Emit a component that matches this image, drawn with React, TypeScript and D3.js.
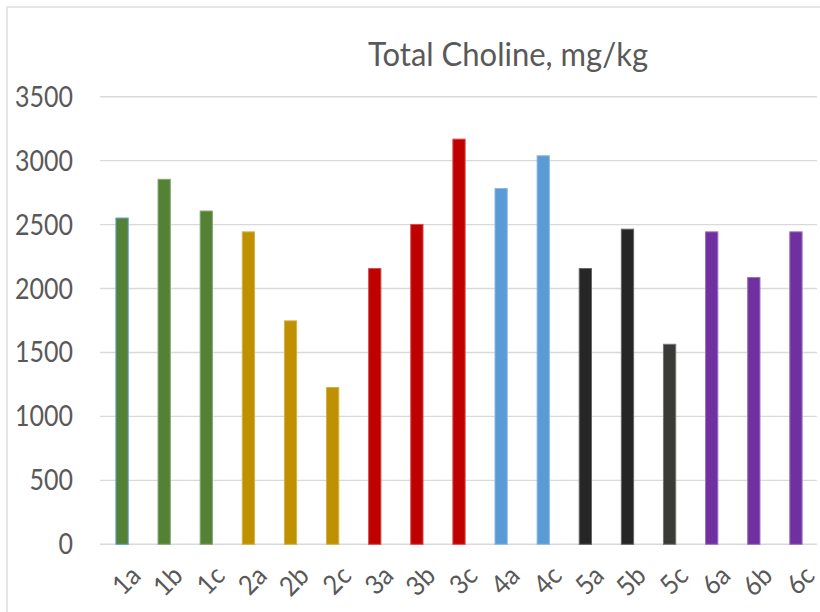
import React from "react";
import * as d3 from "d3";

const categories = ["1a","1b","1c","2a","2b","2c","3a","3b","3c","4a","4c","5a","5b","5c","6a","6b","6c"];
const values = [2555, 2858, 2610, 2447, 1751, 1230, 2160, 2505, 3172, 2786, 3042, 2160, 2468, 1568, 2447, 2090, 2447];
const colors = ["#548235","#548235","#548235","#BF9000","#BF9000","#BF9000","#C00000","#C00000","#C00000","#5B9BD5","#5B9BD5","#262626","#262626","#3A3A38","#7030A0","#7030A0","#7030A0"];
const yTicks = [0, 500, 1000, 1500, 2000, 2500, 3000, 3500];
const title = "Total Choline, mg/kg";

const W = 820, H = 612;
const FONT = "Lato, 'Open Sans', sans-serif";
const TXT = "#595959";

export default function App() {
  const x = d3.scaleBand<string>().domain(categories).range([101, 817]).paddingInner(0.685).paddingOuter(0.3425);
  const y = d3.scaleLinear().domain([0, 3500]).range([544.3, 96.7]);
  return (
    <svg width={W} height={H} style={{ position: "absolute", left: 0, top: 0, background: "#fff" }}>
      <rect x={7} y={7} width={W + 20} height={H + 20} fill="#fff" stroke="#d9d9d9" strokeWidth={1.3} />
      <text transform="translate(508,66) scale(1,1.18)" textAnchor="middle" fontFamily={FONT} fontSize={28}
        fill={TXT} textLength={280} lengthAdjust="spacingAndGlyphs">{title}</text>
      {yTicks.map((t) => (
        <g key={t}>
          <line x1={100} x2={817} y1={y(t)} y2={y(t)} stroke="#d9d9d9" strokeWidth={1.4} />
          <text transform={`translate(73,${y(t) + 10}) scale(1,1.12)`} textAnchor="end" fontFamily={FONT}
            fontSize={25} fill={TXT}>{t}</text>
        </g>
      ))}
      {categories.map((c, i) => {
        const col = colors[i];
        const stroke = i === 0 ? "#5B9BD5" : d3.interpolateRgb(col, "#ffffff")(0.3);
        return (
          <rect key={c} x={x(c)! + 0.5} y={y(values[i]) + 0.5} width={x.bandwidth() - 1}
            height={y(0) - y(values[i]) - 0.5} fill={col} stroke={stroke} strokeWidth={1} />
        );
      })}
      {categories.map((c) => {
        const cx = x(c)! + x.bandwidth() / 2 + 7;
        const cy = 564;
        return (
          <text key={c} transform={`translate(${cx},${cy}) rotate(-45) scale(1.05,1.12)`} textAnchor="end" dy="0.7em"
            fontFamily={FONT} fontSize={24} fill={TXT}>{c}</text>
        );
      })}
    </svg>
  );
}
